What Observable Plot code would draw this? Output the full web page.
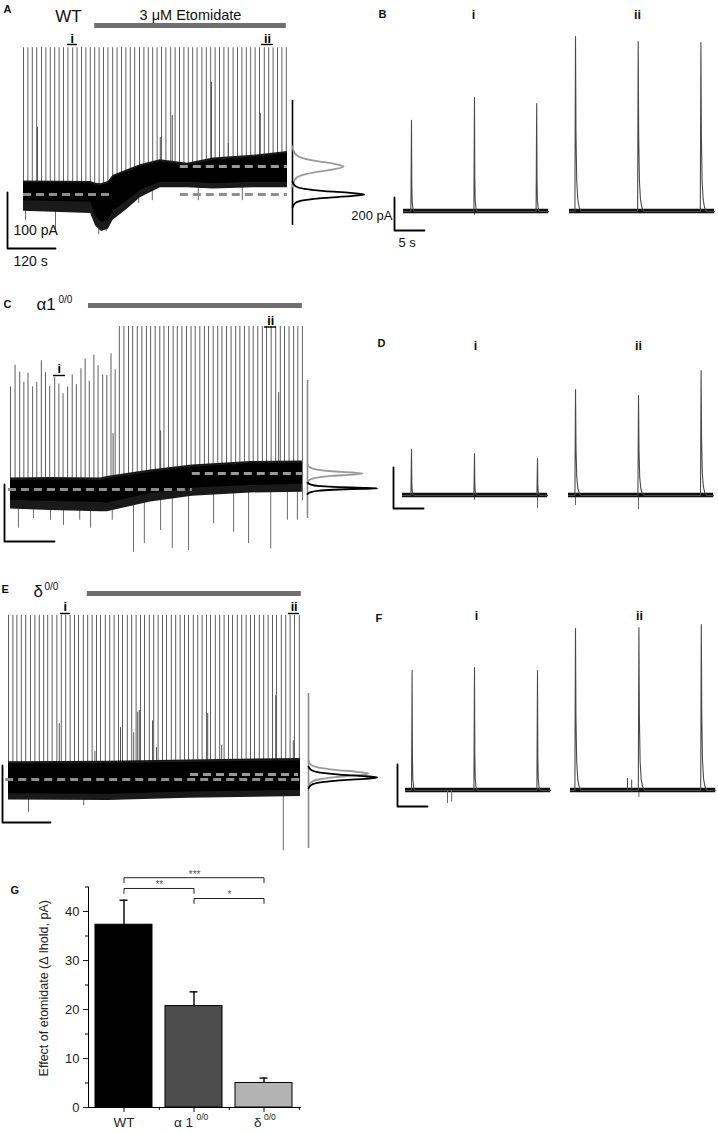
<!DOCTYPE html>
<html>
<head>
<meta charset="utf-8">
<script src="https://cdn.jsdelivr.net/npm/d3@7"></script>
<script src="https://cdn.jsdelivr.net/npm/@observablehq/plot@0.6"></script>
<style>
  html, body { margin: 0; padding: 0; background: #fff; }
  #fig { position: relative; width: 718px; height: 1134px; overflow: hidden; background: #fff; }
</style>
</head>
<body>
<div id="fig"></div>
<script>
// ======================= DATA =======================
// ---- Panel A : WT, long recording (time s, current pA rel. to control baseline)
const aSpikeT = [0, 11, 22, 33, 45, 56, 67, 78, 89, 100, 111, 123, 134, 145, 156, 167, 178, 189, 200, 211,
  223, 234, 245, 256, 267, 278, 290, 301, 312, 323, 334, 345, 356, 368, 379, 390, 401, 412, 423, 434,
  446, 457, 468, 479, 490, 501, 512, 524, 535, 546, 557, 568, 579, 590, 602, 613, 624, 635, 646, 657];
const aSpikeTop = 262;                       // all spikes clipped at the panel top
const aEventT = [35, 342, 372, 470, 512, 592];
const aEventPk = [120, 102, 141, 200, 91, 145];
const aDownT = [5, 80, 188, 207, 288, 322, 437, 547];
const aDownPk = [-46, -64, -72, -66, -16, -11, -11, -11];
const aBandT  = [0, 168, 180, 195, 212, 224, 260, 292, 342, 410, 475, 575, 660];
const aBandHi = [21, 20, 17, 16, 20, 31, 40, 50, 58, 52, 61, 66, 73];
const aBandLo = [-11, -14, -38, -50, -46, -30, -11, 7, 22, 22, 19, 22, 22];
const aFrLo   = [-30, -34, -56, -66, -62, -46, -26, -6, 12, 12, 10, 12, 12];
const aFrHi   = [24, 23, 20, 19, 23, 34, 44, 53, 62, 56, 65, 70, 77];
const aMeans  = [0, 50];
const aDrug   = [178, 657];
const aSel    = [122, 610];                  // sections i and ii (s)

// ---- Panel C : alpha1 0/0
const cEarlyT  = [0, 11, 22, 32, 42, 53, 63, 74, 84, 94, 106, 116, 126, 137, 148, 158, 169, 179, 189, 200, 210, 221, 231, 241, 251];
const cEarlyPk = [180, 218, 206, 188, 204, 180, 188, 226, 205, 181, 197, 185, 168, 180, 201, 184, 212, 229, 190, 236, 217, 201, 200, 238, 210];
const cLateT   = [261, 272, 283, 293, 304, 315, 326, 336, 347, 358, 368, 379, 390, 400, 411, 422, 433, 443, 454, 465, 475,
  486, 497, 507, 518, 529, 540, 550, 561, 572, 582, 593, 604, 614, 625, 636, 647, 657, 668, 679, 689, 700];
const cLateTop = 286;
const cEventT  = [246, 360, 643];
const cEventPk = [98, 103, 170];
const cDownT   = [19, 55, 96, 127, 166, 192, 244, 295, 321, 360, 388, 427, 487, 535, 571, 624, 664, 688];
const cDownPk  = [-68, -51, -54, -63, -54, -68, -54, -110, -95, -72, -104, -107, -60, -75, -95, -104, -54, -54];
const cBandT  = [0, 96, 216, 232, 336, 436, 576, 700];
const cBandHi = [16, 17, 16, 19, 30, 39, 45, 46];
const cBandLo = [-19, -21, -23, -24, -7, 2, 7, 9];
const cFrLo   = [-34, -37, -39, -39, -22, -12, -6, -5];
const cFrHi   = [20, 21, 20, 23, 34, 43, 49, 50];
const cMeans  = [0, 28];
const cDrug   = [187, 700];
const cSel    = [117, 624];

// ---- Panel E : delta 0/0
const eSpikeT = [0, 11, 21, 32, 43, 55, 66, 77, 88, 98, 109, 121, 132, 143, 154, 165, 175, 187, 198, 209, 220, 230,
  242, 253, 264, 275, 285, 297, 308, 319, 330, 340, 352, 363, 374, 385, 395, 407, 418, 429, 440, 450, 462, 473,
  484, 495, 505, 517, 528, 539, 550, 560, 572, 583, 594, 605, 615, 627, 638, 649, 660, 670, 682, 693, 704, 715, 727];
const eSpikeTop = 288;
const eEventT  = [127, 216, 280, 313, 323, 327, 360, 370, 498, 533, 668, 712];
const eEventPk = [98, 49, 91, 82, 118, 121, 103, 56, 116, 60, 147, 68];
const eDownT   = [50, 188, 687];
const eDownPk  = [-58, -46, -125];
const eBandT  = [0, 250, 450, 730];
const eBandHi = [27, 28, 30, 33];
const eBandLo = [-25, -26, -22, -19];
const eFrLo   = [-36, -37, -33, -30];
const eFrHi   = [31, 32, 34, 37];
const eMeans  = [0, 8.8];
const eDrug   = [197, 732];
const eSel    = [142, 714];

// ---- all-points histograms (relative density shape + current values, pA)
const histShape   = [0, 0.04, 0.17, 0.45, 0.8, 1, 0.8, 0.45, 0.17, 0.04, 0];
const aHistCtrlV  = [-23, -15, -10, -6, -3, 0, 3, 6, 10, 15, 23];
const aHistDrugV  = [14, 26, 34, 40, 45, 50, 55, 60, 66, 74, 86];
const aHistDrugPk = 0.71;
const cHistCtrlV  = [-8, -5, -2, 0, 1, 2, 3, 4, 6, 9, 12];
const cHistDrugV  = [12, 17, 21, 24, 26, 28, 30, 32, 35, 39, 44];
const cHistDrugPk = 0.79;
const eHistCtrlV  = [-15.5, -9.5, -5, -1.5, 1, 3.5, 6, 8.5, 12, 16.5, 22.5];
const eHistDrugV  = [-12.5, -5, 0, 4, 7.5, 10.5, 13.5, 17, 21, 26, 33.5];
const eHistDrugPk = 0.87;

// ---- expanded sections (time s from section start, peak pA)
const fastShapeT = [-0.1, 0, 0.05, 0.12, 0.25, 0.45];
const fastShapeF = [0, 1, 0.3, 0.1, 0.03, 0];
const slowShapeT = [-0.1, 0, 0.08, 0.2, 0.38, 0.6, 0.95];
const slowShapeF = [0, 1, 0.45, 0.18, 0.07, 0.025, 0];
const bT_i  = [1.33, 11.83, 22.2];  const bPk_i  = [552, 691, 655];  const bTr_i  = [0, -24, 0];
const bT_ii = [1.0, 11.45, 21.9];   const bPk_ii = [1061, 1030, 1024]; const bTr_ii = [0, 0, 0];
const dT_i  = [1.5, 12.0, 22.5];    const dPk_i  = [224, 205, 180];  const dTr_i  = [0, -24, -63];
const dT_ii = [1.17, 11.67, 22.1];  const dPk_ii = [517, 488, 610];  const dTr_ii = [-49, -68, 0];
const fT_i  = [1.1, 11.5, 22.0];    const fPk_i  = [571, 586, 571];  const fTr_i  = [0, 0, 0];
const fT_ii = [0.83, 11.4, 21.8];   const fPk_ii = [771, 776, 790];  const fTr_ii = [0, -33, 0];
const fNoiseT_i = [7.0, 7.7];       const fNoiseV_i = [-62, -55];
const fBumpT_ii = [9.5, 10.2];      const fBumpPk_ii = [57, 50];
const sectionDur = 24.2;
const noiseB = 13, noiseD = 11, noiseF = 11;

// ---- scale bars
const longScale = {pA: 100, s: 120};
const shortScale = {pA: 200, s: 5};

// ---- Panel G : bar chart
const gGroups = ["WT", "α1", "δ"];
const gMean   = [37.3, 20.7, 5.0];
const gSem    = [5.0, 2.9, 1.0];
const gYTicks = [0, 10, 20, 30, 40];
const gMinor  = [5, 15, 25, 35, 45];
const gSig    = [["WT", "δ", "***"], ["WT", "α1", "**"], ["α1", "δ", "*"]];

// ======================= RENDERING =======================
const FONT = '"Liberation Sans", Arial, Helvetica, sans-serif';
const fig = document.getElementById("fig");

function place(svg, left, top) {
  svg.style.position = "absolute";
  svg.style.left = left + "px";
  svg.style.top = top + "px";
  fig.appendChild(svg);
}

// A frame maps data (x units, y units) linearly to page pixels.
function frame(c) {
  const T = px => (px - c.x0) / c.kx;
  const V = py => (c.y0 - py) / c.ky;
  const text = (s, px, py, o = {}) =>
    Plot.text([s], {x: T(px), y: V(py), text: d => d, fontFamily: FONT, fill: "#111", ...o});
  const ul = (px1, px2, py) =>
    Plot.ruleY([V(py)], {x1: T(px1), x2: T(px2), stroke: "#000", strokeWidth: 1.4});
  const draw = marks => {
    const svg = Plot.plot({
      width: c.w, height: c.h, margin: 0,
      x: {axis: null, domain: [0, 1], range: [c.x0 - c.left, c.x0 + c.kx - c.left]},
      y: {axis: null, domain: [0, 1], range: [c.y0 - c.top, c.y0 - c.ky - c.top]},
      style: {background: "transparent", overflow: "visible", fontFamily: FONT},
      marks
    });
    place(svg, c.left, c.top);
  };
  return {T, V, text, ul, draw};
}

function scaleBar(F, px, py, s, pA) {
  const t0 = F.T(px), v0 = F.V(py);
  return Plot.line([[t0, v0 + pA], [t0, v0], [t0 + s, v0]], {stroke: "#000", strokeWidth: 1.8});
}

function traceMarks(F, d) {
  const band = d.bandT.map((t, i) => ({t, hi: d.bandHi[i], lo: d.bandLo[i], flo: d.frLo[i], fhi: d.frHi[i]}));
  const spikes = d.spikeT.map((t, i) => ({t, pk: d.spikePk[i]}));
  const events = d.eventT.map((t, i) => ({t, pk: d.eventPk[i]}));
  const downs = d.downT.map((t, i) => ({t, pk: d.downPk[i]}));
  const floor = -20;
  const [m0, m1] = d.means;
  return [
    Plot.ruleY([F.V(d.drugY)], {x1: d.drug[0], x2: d.drug[1], stroke: "#6f6f6f", strokeWidth: 5}),
    Plot.ruleX(spikes, {x: "t", y1: floor, y2: "pk", stroke: "#5e5e5e", strokeWidth: 1}),
    Plot.ruleX(events, {x: "t", y1: floor, y2: "pk", stroke: "#555", strokeWidth: 1}),
    Plot.areaY(band, {x: "t", y1: d => d.flo + 1, y2: floor - 8, fill: "#fff"}),
    Plot.ruleX(downs, {x: "t", y1: d.downFrom, y2: "pk", stroke: "#6a6a6a", strokeWidth: 1}),
    Plot.areaY(band, {x: "t", y1: "flo", y2: "fhi", fill: "#1a1a1a"}),
    Plot.areaY(band, {x: "t", y1: "lo", y2: "hi", fill: "#000"}),
    ...d.dashCtrl.map(([t1, t2]) => Plot.ruleY([m0], {x1: t1, x2: t2, stroke: "#8e8e8e", strokeWidth: 3, strokeDasharray: "8,5"})),
    Plot.ruleY([m1], {x1: d.dashDrug[0], x2: d.dashDrug[1], stroke: "#9a9a9a", strokeWidth: 3, strokeDasharray: "8,5"})
  ];
}

function histPlot(c, ctrlV, drugV, drugPk, lineColor, lineTop, lineBot) {
  const F = frame(c);
  const ctrl = ctrlV.map((v, i) => ({v, d: histShape[i]}));
  const drug = drugV.map((v, i) => ({v, d: histShape[i] * drugPk}));
  F.draw([
    Plot.ruleX([0], {y1: F.V(lineTop), y2: F.V(lineBot), stroke: lineColor, strokeWidth: 1.6}),
    Plot.line(drug, {x: "d", y: "v", stroke: "#9a9a9a", strokeWidth: 1.8, curve: "monotone-y"}),
    Plot.line(ctrl, {x: "d", y: "v", stroke: "#000", strokeWidth: 1.8, curve: "monotone-y"})
  ]);
}

function sectionPlot(c, spT, spPk, spTr, shT, shF, noise, label, labelX, labelY, extra = () => []) {
  const F = frame(c);
  const pts = [{t: 0, v: 0}];
  spT.forEach((s, i) => shT.forEach((dt, j) => pts.push({t: s + dt, v: spPk[i] * shF[j]})));
  pts.push({t: sectionDur, v: 0});
  const troughs = spT.map((t, i) => ({t, v: spTr[i]})).filter(d => d.v !== 0);
  F.draw([
    Plot.ruleX(troughs, {x: "t", y1: 0, y2: "v", stroke: "#666", strokeWidth: 1}),
    Plot.areaY([{t: 0}, {t: sectionDur}], {x: "t", y1: -noise, y2: noise, fill: "#111"}),
    Plot.line(pts, {x: "t", y: "v", stroke: "#4a4a4a", strokeWidth: 1.1}),
    F.text(label, labelX, labelY, {fontWeight: "bold", fontSize: 12.5}),
    ...extra(F)
  ]);
}

// ---------------- Panel A ----------------
{
  const c = {left: 0, top: 0, w: 292, h: 272, x0: 23, kx: 0.4, y0: 194, ky: 0.56};
  const F = frame(c);
  F.draw([
    ...traceMarks(F, {
      spikeT: aSpikeT, spikePk: aSpikeT.map(() => aSpikeTop), eventT: aEventT, eventPk: aEventPk,
      downT: aDownT, downPk: aDownPk, downFrom: 14,
      bandT: aBandT, bandHi: aBandHi, bandLo: aBandLo, frLo: aFrLo, frHi: aFrHi,
      means: aMeans, drug: aDrug, drugY: 25,
      dashCtrl: [[0, 218], [392, 660]], dashDrug: [392, 660]
    }),
    scaleBar(F, 7, 248, longScale.s, longScale.pA),
    F.text("A", 3, 8.5, {textAnchor: "start", fontWeight: "bold", fontSize: 11}),
    F.text("WT", 68, 16, {fontSize: 17}),
    F.text("3 μM Etomidate", 190, 15, {fontSize: 14.5}),
    Plot.text(["i"], {x: aSel[0], y: F.V(38), fontWeight: "bold", fontSize: 12.5, fontFamily: FONT}),
    F.ul(67, 77, 44),
    Plot.text(["ii"], {x: aSel[1], y: F.V(38), fontWeight: "bold", fontSize: 12.5, fontFamily: FONT}),
    F.ul(261, 273, 44),
    F.text(`${longScale.pA} pA`, 13, 230, {textAnchor: "start", fontSize: 14}),
    F.text(`${longScale.s} s`, 13, 261, {textAnchor: "start", fontSize: 14})
  ]);
  histPlot({left: 286, top: 90, w: 90, h: 145, x0: 292, kx: 72, y0: 194, ky: 0.56},
    aHistCtrlV, aHistDrugV, aHistDrugPk, "#000", 100, 225);
}

// ---------------- Panel C ----------------
{
  const c = {left: 0, top: 285, w: 312, h: 275, x0: 10, kx: 0.417, y0: 489, ky: 0.57};
  const F = frame(c);
  F.draw([
    ...traceMarks(F, {
      spikeT: cEarlyT.concat(cLateT), spikePk: cEarlyPk.concat(cLateT.map(() => cLateTop)),
      eventT: cEventT, eventPk: cEventPk, downT: cDownT, downPk: cDownPk, downFrom: 0,
      bandT: cBandT, bandHi: cBandHi, bandLo: cBandLo, frLo: cFrLo, frHi: cFrHi,
      means: cMeans, drug: cDrug, drugY: 305,
      dashCtrl: [[-5, 436]], dashDrug: [436, 700]
    }),
    scaleBar(F, 4, 541, longScale.s, longScale.pA),
    F.text("C", 3, 304, {textAnchor: "start", fontWeight: "bold", fontSize: 11}),
    F.text("α1", 36, 304, {textAnchor: "start", fontSize: 17}),
    F.text("0/0", 58, 299.5, {textAnchor: "start", fontSize: 10}),
    Plot.text(["i"], {x: cSel[0], y: F.V(368), fontWeight: "bold", fontSize: 12.5, fontFamily: FONT}),
    F.ul(53, 65, 375),
    Plot.text(["ii"], {x: cSel[1], y: F.V(320), fontWeight: "bold", fontSize: 12.5, fontFamily: FONT}),
    F.ul(264, 276, 326.5)
  ]);
  histPlot({left: 300, top: 370, w: 85, h: 160, x0: 307, kx: 70, y0: 489, ky: 0.57},
    cHistCtrlV, cHistDrugV, cHistDrugPk, "#8a8a8a", 380, 518);
}

// ---------------- Panel E ----------------
{
  const c = {left: 0, top: 575, w: 312, h: 285, x0: 8, kx: 0.4, y0: 779, ky: 0.57};
  const F = frame(c);
  F.draw([
    ...traceMarks(F, {
      spikeT: eSpikeT, spikePk: eSpikeT.map(() => eSpikeTop), eventT: eEventT, eventPk: eEventPk,
      downT: eDownT, downPk: eDownPk, downFrom: 0,
      bandT: eBandT, bandHi: eBandHi, bandLo: eBandLo, frLo: eFrLo, frHi: eFrHi,
      means: eMeans, drug: eDrug, drugY: 593,
      dashCtrl: [[-7, 735]], dashDrug: [455, 725]
    }),
    scaleBar(F, 2, 822, longScale.s, longScale.pA),
    F.text("E", 1, 589, {textAnchor: "start", fontWeight: "bold", fontSize: 11}),
    F.text("δ", 33, 591, {textAnchor: "start", fontSize: 17}),
    F.text("0/0", 44, 586, {textAnchor: "start", fontSize: 10}),
    Plot.text(["i"], {x: eSel[0], y: F.V(606.5), fontWeight: "bold", fontSize: 12.5, fontFamily: FONT}),
    F.ul(60, 70, 613),
    Plot.text(["ii"], {x: eSel[1], y: F.V(606.5), fontWeight: "bold", fontSize: 12.5, fontFamily: FONT}),
    F.ul(288, 299, 613)
  ]);
  histPlot({left: 300, top: 685, w: 85, h: 170, x0: 308, kx: 69, y0: 779, ky: 0.57},
    eHistCtrlV, eHistDrugV, eHistDrugPk, "#8a8a8a", 693, 848);
}

// ---------------- Panels B, D, F (expanded sections) ----------------
sectionPlot({left: 355, top: 0, w: 200, h: 255, x0: 403, kx: 6, y0: 211, ky: 0.165},
  bT_i, bPk_i, bTr_i, fastShapeT, fastShapeF, noiseB, "i", 473, 14, F => [
    scaleBar(F, 394, 230, shortScale.s, shortScale.pA),
    F.text("B", 378, 13.5, {textAnchor: "start", fontWeight: "bold", fontSize: 11}),
    F.text(`${shortScale.pA} pA`, 392, 215, {textAnchor: "end", fontSize: 13}),
    F.text(`${shortScale.s} s`, 398, 242, {textAnchor: "start", fontSize: 13})
  ]);
sectionPlot({left: 560, top: 0, w: 158, h: 255, x0: 569, kx: 6, y0: 211, ky: 0.165},
  bT_ii, bPk_ii, bTr_ii, slowShapeT, slowShapeF, noiseB, "ii", 637, 14);

sectionPlot({left: 355, top: 330, w: 200, h: 190, x0: 402, kx: 6, y0: 495, ky: 0.205},
  dT_i, dPk_i, dTr_i, fastShapeT, fastShapeF, noiseD, "i", 475, 345, F => [
    scaleBar(F, 393, 508, shortScale.s, shortScale.pA),
    F.text("D", 377, 342.5, {textAnchor: "start", fontWeight: "bold", fontSize: 11})
  ]);
sectionPlot({left: 560, top: 330, w: 158, h: 190, x0: 568, kx: 6, y0: 495, ky: 0.205},
  dT_ii, dPk_ii, dTr_ii, slowShapeT, slowShapeF, noiseD, "ii", 638, 345);

sectionPlot({left: 355, top: 600, w: 200, h: 215, x0: 405, kx: 6, y0: 790, ky: 0.21},
  fT_i, fPk_i, fTr_i, fastShapeT, fastShapeF, noiseF, "i", 476, 615, F => [
    Plot.ruleX(fNoiseT_i.map((t, i) => ({t, v: fNoiseV_i[i]})), {x: "t", y1: 0, y2: "v", stroke: "#666"}),
    scaleBar(F, 397, 806, shortScale.s, shortScale.pA),
    F.text("F", 375, 618, {textAnchor: "start", fontWeight: "bold", fontSize: 11})
  ]);
sectionPlot({left: 560, top: 600, w: 158, h: 215, x0: 570, kx: 6, y0: 790, ky: 0.21},
  fT_ii, fPk_ii, fTr_ii, slowShapeT, slowShapeF, noiseF, "ii", 639, 615, F => [
    Plot.ruleX(fBumpT_ii.map((t, i) => ({t, v: fBumpPk_ii[i]})), {x: "t", y1: 0, y2: "v", stroke: "#444"})
  ]);

// ---------------- Panel G (bar chart) ----------------
{
  const gFill = ["#000", "#4d4d4d", "#b3b3b3"];
  const rows = gGroups.map((g, i) => ({g, m: gMean[i], e: gSem[i], fill: gFill[i]}));
  const sigY = [46.9, 44.7, 42.65];
  const sigTextY = [47.55, 45.5, 43.5];
  const step = 70.67;
  const sigMarks = gSig.flatMap(([a, b, s], k) => {
    const y = sigY[k];
    const ia = gGroups.indexOf(a), ib = gGroups.indexOf(b);
    return [
      Plot.line([{g: a, v: y - 1}, {g: a, v: y}, {g: b, v: y}, {g: b, v: y - 1}],
        {x: "g", y: "v", stroke: "#222", strokeWidth: 1}),
      Plot.text([s], {x: () => a, y: sigTextY[k], dx: (ib - ia) * step / 2, fontSize: 10, fill: "#555", fontFamily: FONT})
    ];
  });
  const svg = Plot.plot({
    width: 330, height: 274,
    marginLeft: 88, marginRight: 30, marginTop: 26.5, marginBottom: 27,
    x: {domain: gGroups, paddingInner: 0.18, paddingOuter: 0.09, axis: null},
    y: {domain: [0, 45], ticks: gYTicks, tickSize: 5, tickPadding: 4, label: null},
    color: {type: "identity"},
    style: {background: "transparent", overflow: "visible", fontFamily: FONT, fontSize: "13px", color: "#222"},
    marks: [
      Plot.barY(rows, {x: "g", y: "m", fill: "fill", stroke: "#000", strokeWidth: 1}),
      Plot.ruleX(rows, {x: "g", y1: "m", y2: d => d.m + d.e, stroke: "#000", strokeWidth: 1.4}),
      Plot.tickY(rows, {x: "g", y: d => d.m + d.e, stroke: "#000", strokeWidth: 1.4, insetLeft: 24.5, insetRight: 24.5}),
      Plot.tickY(gMinor, {y: d => d, stroke: "#000", insetLeft: -3, insetRight: 212}),
      Plot.frame({anchor: "left", stroke: "#000"}),
      Plot.frame({anchor: "bottom", stroke: "#000"}),
      Plot.ruleX(gGroups, {x: d => d, y1: 0, y2: -1, stroke: "#000"}),
      Plot.ruleX(gGroups, {x: d => d, y1: 0, y2: -0.6, dx: step / 2, stroke: "#000"}),
      ...sigMarks,
      Plot.text(["WT"], {x: d => d, y: 0, dy: 15.5, fontSize: 13.5, fill: "#222", fontFamily: FONT}),
      Plot.text(["α1"], {x: d => d, y: 0, dy: 15.5, dx: -1, textAnchor: "end", text: () => "α 1", fontSize: 13.5, fill: "#222", fontFamily: FONT}),
      Plot.text(["α1"], {x: d => d, y: 0, dy: 10, dx: 2.5, textAnchor: "start", text: () => "0/0", fontSize: 8.5, fill: "#222", fontFamily: FONT}),
      Plot.text(["δ"], {x: d => d, y: 0, dy: 15.5, dx: -2.5, textAnchor: "end", text: () => "δ", fontSize: 13.5, fill: "#222", fontFamily: FONT}),
      Plot.text(["δ"], {x: d => d, y: 0, dy: 10, dx: 0, textAnchor: "start", text: () => "0/0", fontSize: 8.5, fill: "#222", fontFamily: FONT}),
      Plot.text(["Effect of etomidate (Δ Ihold, pA)"], {frameAnchor: "left", textAnchor: "middle", dx: -45, dy: -9, rotate: -90, fontSize: 12.5, fill: "#222", fontFamily: FONT}),
      Plot.text(["G"], {frameAnchor: "top-left", dx: 10 - 88, dy: -0.5, textAnchor: "start", fontWeight: "bold", fontSize: 11, fill: "#111", fontFamily: FONT})
    ]
  });
  place(svg, 0, 860);
}
</script>
</body>
</html>
